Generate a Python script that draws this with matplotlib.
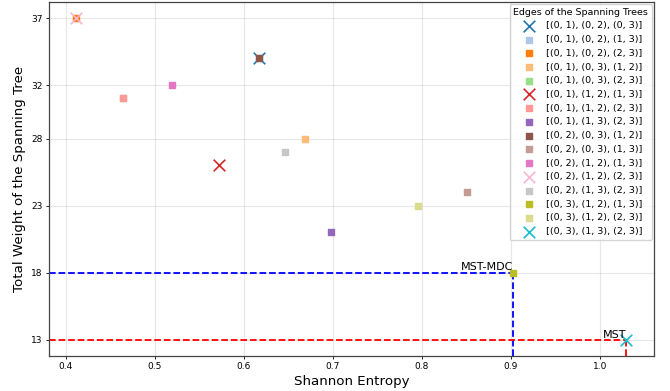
import matplotlib
matplotlib.use("Agg")
import matplotlib.pyplot as plt

# spanning trees of K4, entropy vs total weight
trees = [
    "[(0, 1), (0, 2), (0, 3)]",
    "[(0, 1), (0, 2), (1, 3)]",
    "[(0, 1), (0, 2), (2, 3)]",
    "[(0, 1), (0, 3), (1, 2)]",
    "[(0, 1), (0, 3), (2, 3)]",
    "[(0, 1), (1, 2), (1, 3)]",
    "[(0, 1), (1, 2), (2, 3)]",
    "[(0, 1), (1, 3), (2, 3)]",
    "[(0, 2), (0, 3), (1, 2)]",
    "[(0, 2), (0, 3), (1, 3)]",
    "[(0, 2), (1, 2), (1, 3)]",
    "[(0, 2), (1, 2), (2, 3)]",
    "[(0, 2), (1, 3), (2, 3)]",
    "[(0, 3), (1, 2), (1, 3)]",
    "[(0, 3), (1, 2), (2, 3)]",
    "[(0, 3), (1, 3), (2, 3)]",
]
entropy = [0.617, 0.617, 0.412, 0.669, 0.464, 0.572, 0.464, 0.698,
           0.617, 0.851, 0.519, 0.412, 0.646, 0.903, 0.796, 1.030]
weight = [34, 34, 37, 28, 31, 26, 31, 21, 34, 24, 32, 37, 27, 18, 23, 13]
is_star = [True, False, False, False, False, True, False, False,
           False, False, False, True, False, False, False, True]
yticks = [13, 18, 23, 28, 32, 37]

colors = ["#1f77b4", "#aec7e8", "#ff7f0e", "#ffbb78", "#98df8a", "#d62728",
          "#ff9896", "#9467bd", "#8c564b", "#c49c94", "#e377c2", "#f7b6d2",
          "#c7c7c7", "#bcbd22", "#dbdb8d", "#17becf"]

mst = 15
mst_mdc = 13

fig = plt.figure(figsize=(6.7, 3.91), dpi=100)
ax = fig.add_axes([0.073, 0.09, 0.903, 0.905])

# drawn in order so later trees sit on top
for i in range(len(trees)):
    if is_star[i]:
        ax.scatter(entropy[i], weight[i], marker="x", s=70, color=colors[i],
                   linewidths=1.2, label=trees[i], zorder=3)
    else:
        ax.scatter(entropy[i], weight[i], marker="s", s=14, color=colors[i],
                   label=trees[i], zorder=3)

ax.margins(0.05)
xmin, xmax = ax.get_xlim()
ymin, ymax = ax.get_ylim()

# dashed guides to the two special trees
ax.plot([xmin, entropy[mst_mdc]], [weight[mst_mdc]] * 2, "b--", lw=1.3, zorder=2)
ax.plot([entropy[mst_mdc]] * 2, [ymin, weight[mst_mdc]], "b--", lw=1.3, zorder=2)
ax.plot([xmin, entropy[mst]], [weight[mst]] * 2, "r--", lw=1.3, zorder=2)
ax.plot([entropy[mst]] * 2, [ymin, weight[mst]], "r--", lw=1.3, zorder=2)
ax.set_xlim(xmin, xmax)
ax.set_ylim(ymin, ymax)

ax.text(entropy[mst_mdc], weight[mst_mdc] + 0.2, "MST-MDC", ha="right",
        va="baseline", fontsize=8)
ax.text(entropy[mst], weight[mst] + 0.15, "MST", ha="right",
        va="baseline", fontsize=8)

ax.set_yticks(yticks)
ax.set_xlabel("Shannon Entropy", fontsize=9.6, labelpad=2.6)
ax.set_ylabel("Total Weight of the Spanning Tree", fontsize=9.6, labelpad=3.5)
ax.tick_params(labelsize=6.5, length=2.3, pad=2.3, width=0.6)
ax.grid(True, alpha=0.3, lw=0.8)
for sp in ax.spines.values():
    sp.set_color("#444444")
    sp.set_linewidth(0.9)

ax.legend(title="Edges of the Spanning Trees", loc="upper right", fontsize=6.8,
          title_fontsize=6.8, labelspacing=0.5, borderpad=0.4,
          handletextpad=0.8, borderaxespad=0.2)

fig.savefig("out.png", dpi=100)
